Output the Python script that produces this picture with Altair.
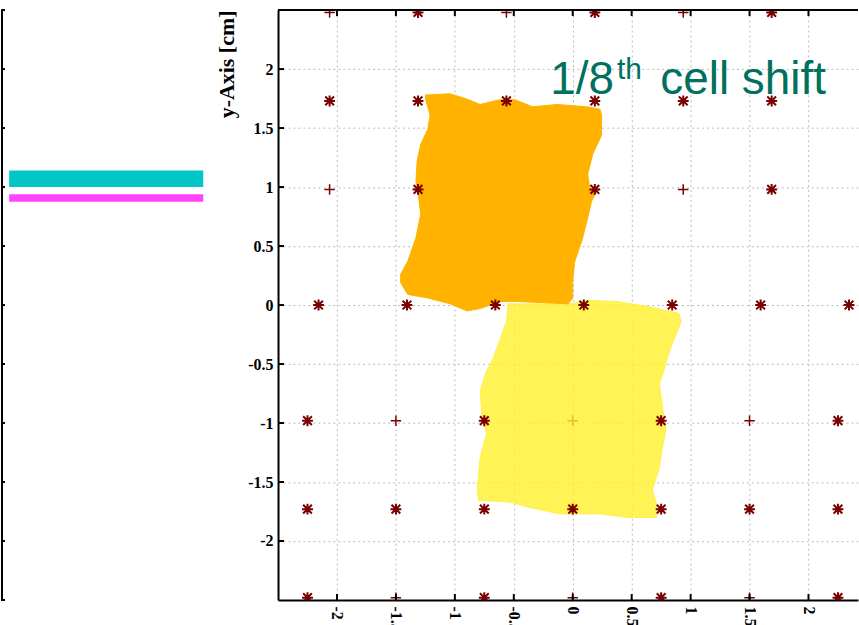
import altair as alt
import pandas as pd

# ---------------- data ----------------
X_MIN, X_MAX = -2.5, 2.42
Y_MIN, Y_MAX = -2.5, 2.5
tick_vals = [-2, -1.5, -1, -0.5, 0, 0.5, 1, 1.5, 2]

# lattice of wires (S = asterisk, P = plus)
upper_x = [-2.0625, -1.3125, -0.5625, 0.1875, 0.9375, 1.6875]
mid_x = [-2.15625, -1.40625, -0.65625, 0.09375, 0.84375, 1.59375, 2.34375]
lower_x = [-2.25, -1.5, -0.75, 0.0, 0.75, 1.5, 2.25]
row_y = [2.48, 1.73, 0.98, 0.0, -0.98, -1.73, -2.48]
row_xsets = [upper_x, upper_x, upper_x, mid_x, lower_x, lower_x, lower_x]
row_kinds = [
    ["P", "S", "P", "S", "P", "S"],
    ["S", "S", "S", "S", "S", "S"],
    ["P", "S", "P", "S", "P", "S"],
    ["S", "S", "S", "S", "S", "S", "S"],
    ["S", "P", "S", "P", "S", "P", "S"],
    ["S", "S", "S", "S", "S", "S", "S"],
    ["S", "P", "S", "P", "S", "P", "S"],
]

# orange (shifted cell) outline
orange_x = [-1.25, -1.04, -0.91, -0.785, -0.62, -0.49, -0.34, -0.135, 0.12, 0.23,
            0.245, 0.245, 0.17, 0.127, 0.144, 0.20, 0.16, 0.12, 0.076, 0.017,
            0.0, 0.0, -0.04, -0.25, -0.47, -0.62, -0.785, -0.895, -1.04, -1.23,
            -1.40, -1.46, -1.46, -1.40, -1.33, -1.29, -1.31, -1.33, -1.32, -1.29,
            -1.23, -1.21, -1.25]
orange_y = [1.78, 1.79, 1.75, 1.70, 1.74, 1.74, 1.68, 1.70, 1.68, 1.66,
            1.61, 1.44, 1.28, 1.11, 0.99, 0.96, 0.88, 0.71, 0.54, 0.37,
            0.20, 0.06, 0.01, 0.02, 0.03, 0.03, -0.03, -0.05, 0.01, 0.06,
            0.09, 0.19, 0.26, 0.37, 0.57, 0.77, 0.94, 1.05, 1.22, 1.36,
            1.49, 1.61, 1.75]

# yellow (reference cell) outline
yellow_x = [-0.55, -0.28, -0.025, 0.14, 0.37, 0.625, 0.90, 0.92, 0.90, 0.82,
            0.78, 0.735, 0.75, 0.79, 0.76, 0.735, 0.675, 0.71, 0.71, 0.456,
            0.23, 0.034, -0.11, -0.39, -0.53, -0.80, -0.81, -0.785, -0.73, -0.77,
            -0.785, -0.74, -0.675, -0.62, -0.56]
yellow_y = [0.01, 0.01, 0.01, 0.04, 0.03, -0.01, -0.07, -0.135, -0.19, -0.39,
            -0.53, -0.67, -0.785, -1.06, -1.21, -1.38, -1.57, -1.68, -1.80, -1.80,
            -1.77, -1.77, -1.77, -1.71, -1.67, -1.655, -1.55, -1.29, -1.09, -0.955,
            -0.73, -0.58, -0.45, -0.30, -0.135]

# annotation
note_text = ["1/8", "th", "cell shift"]
note_x = [-0.19, 0.376, 0.743]
note_y = [1.79, 1.917, 1.79]
note_size = [46, 30, 46]

# left panel legend samples
legend_names = ["series A", "series B"]
legend_x0 = [0.04, 0.04]
legend_x1 = [0.99, 0.99]
legend_y0 = [1.0, 0.875]
legend_y1 = [1.14, 0.94]
legend_colors = ["#00C6C6", "#FF44FF"]

# ---------------- tables ----------------
lat_rows = []
for yv, xs_, ks in zip(row_y, row_xsets, row_kinds):
    for xv, k in zip(xs_, ks):
        lat_rows.append({"x": xv, "y": yv, "kind": k})
lattice = pd.DataFrame(lat_rows)
stars = lattice[lattice.kind == "S"]
plus = lattice[lattice.kind == "P"]
orange = pd.DataFrame({"x": orange_x, "y": orange_y, "i": list(range(len(orange_x)))})
yellow = pd.DataFrame({"x": yellow_x, "y": yellow_y, "i": list(range(len(yellow_x)))})
notes = pd.DataFrame({"t": note_text, "x": note_x, "y": note_y, "s": note_size})
ticks = pd.DataFrame({"x": tick_vals, "y": tick_vals})
legend = pd.DataFrame({"name": legend_names, "x0": legend_x0, "x1": legend_x1,
                       "y0": legend_y0, "y1": legend_y1, "c": legend_colors})

W, H = 582, 592
LW = 205
SERIF = "Liberation Serif"

xs = alt.Scale(domain=[X_MIN, X_MAX], nice=False, zero=False)
ys = alt.Scale(domain=[Y_MIN, Y_MAX], nice=False, zero=False)

axis_x = alt.Axis(values=tick_vals, labelExpr="datum.value + ''", labelAngle=90,
                  labelAlign="left", labelBaseline="middle",
                  labelFont=SERIF, labelFontWeight="bold", labelFontSize=16,
                  labelColor="black", labelPadding=6, ticks=False, tickSize=0,
                  domainColor="black", domainWidth=2, grid=True,
                  gridColor="#bbbbbb", gridDash=[2, 3], gridWidth=1, title=None)
axis_y = alt.Axis(values=tick_vals, labelExpr="datum.value + ''",
                  labelFont=SERIF, labelFontWeight="bold", labelFontSize=16,
                  labelColor="black", labelPadding=5, ticks=False, tickSize=0,
                  domainColor="black", domainWidth=2, grid=True,
                  gridColor="#bbbbbb", gridDash=[2, 3], gridWidth=1,
                  title="y-Axis [cm]", titleFont=SERIF, titleFontWeight="bold",
                  titleFontSize=22, titleColor="black", titleAnchor="end",
                  titlePadding=9)


def X(field="x"):
    return alt.X(f"{field}:Q", scale=xs, axis=axis_x)


def Y(field="y"):
    return alt.Y(f"{field}:Q", scale=ys, axis=axis_y)


STAR = "M-1,0L1,0M0,-1L0,1M-0.8,-0.8L0.8,0.8M-0.8,0.8L0.8,-0.8"
PLUS = "M-1,0L1,0M0,-1L0,1"
RED = "#7A0000"

plus_layer = alt.Chart(plus).mark_point(shape=PLUS, size=110, strokeWidth=1.5,
                                        color=RED, filled=False, clip=True, opacity=1).encode(
    x=X(), y=Y())

yellow_layer = alt.Chart(yellow).mark_line(fill="#FFF02A", fillOpacity=0.8,
                                           stroke="#FFF04A", strokeWidth=1,
                                           interpolate="linear-closed", clip=True).encode(
    x=X(), y=Y(), order="i:Q")

orange_layer = alt.Chart(orange).mark_line(fill="#FFB300", stroke="#FFB300",
                                           strokeWidth=1, interpolate="linear-closed",
                                           clip=True).encode(
    x=X(), y=Y(), order="i:Q")

star_layer = alt.Chart(stars).mark_point(shape=STAR, size=120, strokeWidth=2.0,
                                         color=RED, filled=False, clip=True, opacity=1).encode(
    x=X(), y=Y())

note_layer = alt.Chart(notes).mark_text(align="left", baseline="alphabetic",
                                        font="Liberation Sans", color="#00705F").encode(
    x=X(), y=Y(), text="t:N", size=alt.Size("s:Q", scale=None))

tick_bottom = alt.Chart(ticks).mark_rule(color="black", strokeWidth=2).encode(
    x=X(), y=alt.value(H), y2=alt.value(H - 6))
tick_top = alt.Chart(ticks).mark_rule(color="black", strokeWidth=2).encode(
    x=X(), y=alt.value(0), y2=alt.value(6))
tick_left = alt.Chart(ticks).mark_rule(color="black", strokeWidth=2).encode(
    y=Y(), x=alt.value(0), x2=alt.value(6))
top_border = alt.Chart(ticks.head(1)).mark_rule(color="black", strokeWidth=2).encode(
    x=alt.value(0), x2=alt.value(W), y=alt.value(0))

right = alt.layer(plus_layer, yellow_layer, orange_layer, star_layer, note_layer,
                  tick_bottom, tick_top, tick_left, top_border).properties(width=W, height=H)

lx = alt.Scale(domain=[0, 1], nice=False, zero=False)
bars = alt.Chart(legend).mark_rect().encode(
    x=alt.X("x0:Q", scale=lx, axis=None), x2="x1:Q",
    y=alt.Y("y0:Q", scale=ys, axis=None), y2="y1:Q",
    color=alt.Color("c:N", scale=None),
)
lframe = alt.Chart(ticks.head(1)).mark_rule(color="black", strokeWidth=2).encode(
    x=alt.value(1), y=alt.value(0), y2=alt.value(H))
lticks = alt.Chart(ticks).mark_rule(color="black", strokeWidth=2).encode(
    y=alt.Y("y:Q", scale=ys, axis=None), x=alt.value(1), x2=alt.value(4))
lnubs = alt.Chart(pd.DataFrame({"y": [Y_MIN, Y_MAX]})).mark_rule(color="black", strokeWidth=2).encode(
    y=alt.Y("y:Q", scale=ys, axis=None), x=alt.value(0), x2=alt.value(4))
left = alt.layer(bars, lframe, lticks, lnubs).properties(width=LW, height=H)

chart = alt.hconcat(left, right, spacing=10).properties(
    padding={"left": 0, "top": 8, "right": 0, "bottom": 0}
).configure_view(stroke=None)

chart.save("out.html", embed_options={"renderer": "svg", "actions": False})
